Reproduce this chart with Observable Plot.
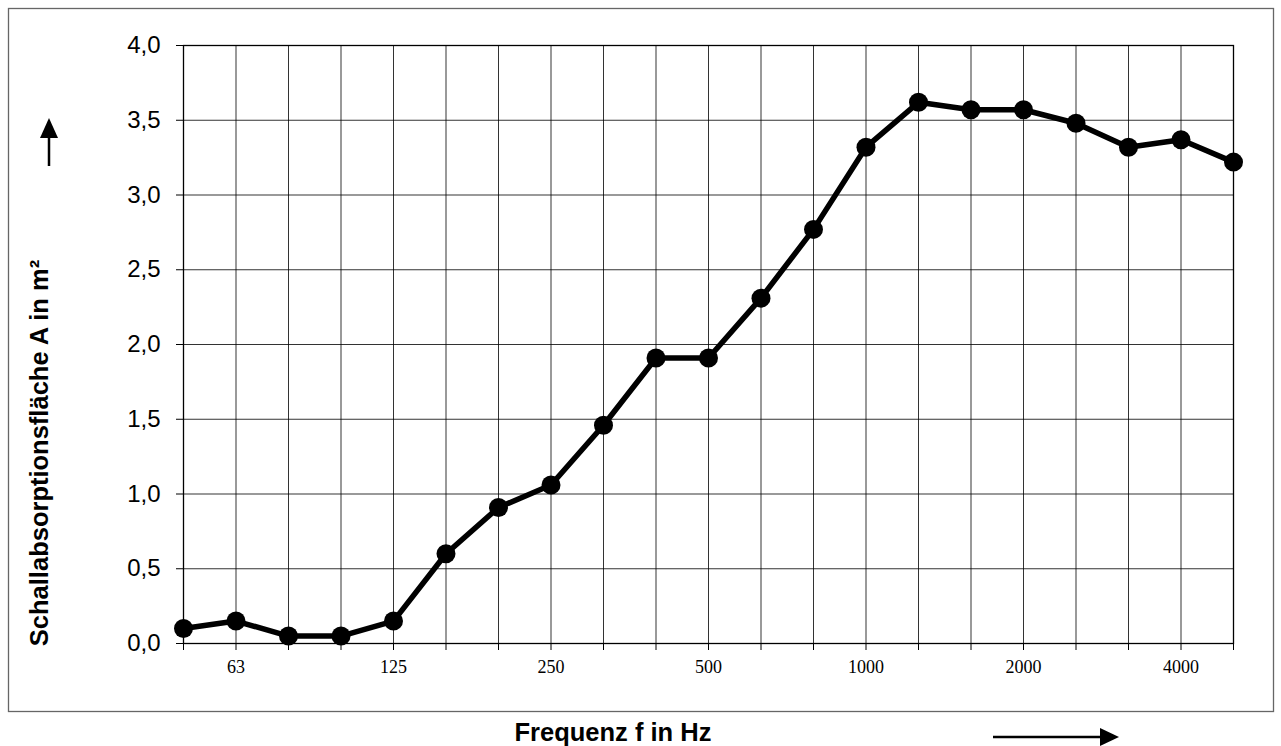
<!DOCTYPE html>
<html>
<head>
<meta charset="utf-8">
<script src="https://cdn.jsdelivr.net/npm/d3@7"></script>
<script src="https://cdn.jsdelivr.net/npm/@observablehq/plot@0.6"></script>
<style>
  html, body { margin: 0; padding: 0; background: #fff; }
  #wrap { position: relative; width: 1281px; height: 746px; overflow: hidden; }
  #wrap > svg { position: absolute; left: 0; top: 0; }
</style>
</head>
<body>
<div id="wrap"></div>
<script>
// Third-octave band centre frequencies (Hz)
const frequencies = ["50","63","80","100","125","160","200","250","315","400","500","630","800","1000","1250","1600","2000","2500","3150","4000","5000"];
// Equivalent sound absorption area A in m²
const absorption = [0.10,0.15,0.05,0.05,0.15,0.60,0.91,1.06,1.46,1.91,1.91,2.31,2.77,3.32,3.62,3.57,3.57,3.48,3.32,3.37,3.22];
// Labelled x ticks
const xTickLabels = ["63","125","250","500","1000","2000","4000"];
// y ticks
const yTicks = [0,0.5,1.0,1.5,2.0,2.5,3.0,3.5,4.0];

const yTitle = "Schallabsorptionsfläche A in m²";
const xTitle = "Frequenz f in Hz";

const data = frequencies.map((f, i) => ({f, a: absorption[i]}));

const chart = Plot.plot({
  width: 1281,
  height: 746,
  marginLeft: 183,
  marginRight: 48,
  marginTop: 45,
  marginBottom: 103,
  style: {background: "transparent", fontFamily: "'Liberation Sans', Arial, sans-serif", color: "#000"},
  x: {type: "point", domain: frequencies, padding: 0, round: false},
  y: {domain: [0, 4]},
  marks: [
    Plot.gridX(frequencies, {stroke: "#000", strokeOpacity: 0.8, strokeWidth: 1}),
    Plot.gridY(yTicks, {stroke: "#000", strokeOpacity: 0.8, strokeWidth: 1}),
    Plot.frame({stroke: "#000", strokeWidth: 1.3}),
    Plot.axisX({
      ticks: frequencies, tickSize: 7, tickPadding: 10, label: null,
      tickFormat: d => xTickLabels.includes(d) ? d : "",
      fontFamily: "'Liberation Serif', 'Times New Roman', serif", fontSize: 18,
      stroke: "#000", fill: "#000"
    }),
    Plot.axisY({
      ticks: yTicks, tickSize: 7, tickPadding: 16, label: null,
      tickFormat: d => d.toFixed(1).replace(".", ","),
      fontSize: 24, stroke: "#000", fill: "#000"
    }),
    Plot.line(data, {x: "f", y: "a", stroke: "#000", strokeWidth: 5.5, strokeLinejoin: "round"}),
    Plot.dot(data, {x: "f", y: "a", r: 9.5, fill: "#000", stroke: "none"})
  ]
});

const wrap = document.getElementById("wrap");
wrap.appendChild(chart);

// Decorations: outer border, axis titles, direction arrows
const ns = "http://www.w3.org/2000/svg";
const deco = document.createElementNS(ns, "svg");
deco.setAttribute("width", 1281);
deco.setAttribute("height", 746);
deco.style.pointerEvents = "none";
deco.innerHTML = `
  <rect x="8.5" y="8.5" width="1265" height="703" fill="none" stroke="#666" stroke-width="1.3"/>
  <text transform="translate(48,453) rotate(-90)" text-anchor="middle"
        font-family="'Liberation Sans', Arial, sans-serif" font-weight="bold" font-size="25.5" fill="#000">${yTitle}</text>
  <text x="613" y="741" text-anchor="middle"
        font-family="'Liberation Sans', Arial, sans-serif" font-weight="bold" font-size="25.5" fill="#000">${xTitle}</text>
  <line x1="49" y1="166" x2="49" y2="136" stroke="#000" stroke-width="2.5"/>
  <polygon points="49,118 40,138 58,138" fill="#000"/>
  <line x1="993" y1="737" x2="1102" y2="737" stroke="#000" stroke-width="2.5"/>
  <polygon points="1119,737 1100,728 1100,746" fill="#000"/>
`;
wrap.appendChild(deco);
</script>
</body>
</html>
